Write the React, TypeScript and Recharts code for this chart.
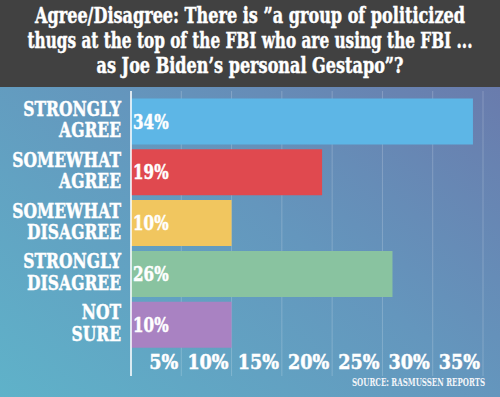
import { BarChart, Bar, XAxis, YAxis, CartesianGrid, Cell, LabelList } from "recharts";

const categories = ["STRONGLY AGREE", "SOMEWHAT AGREE", "SOMEWHAT DISAGREE", "STRONGLY DISAGREE", "NOT SURE"];
const values = [34, 19, 10, 26, 10];
const barColors = ["#5db6e6", "#e0494f", "#f1c65f", "#89c3a0", "#a982c2"];
const xTicks = [5, 10, 15, 20, 25, 30, 35];
const titleLines = [
  "Agree/Disagree: There is \u201Da group of politicized",
  "thugs at the top of the FBI who are using the FBI ...",
  "as Joe Biden\u2019s personal Gestapo\u201D?",
];
const titleWidths = [430, 445, 307];
const source = "SOURCE: RASMUSSEN REPORTS";

const data = categories.map((name, i) => ({ name, value: values[i] }));

const FONT = {
  fontFamily: "'DejaVu Serif', serif",
  fontWeight: 700,
} as const;

// horizontally squeezed text, to mimic the condensed headline face
function Squeezed({ x, y, anchor, size, scale, children }: any) {
  return (
    <text
      transform={`translate(${x},${y}) scale(${scale},1)`}
      x={0}
      y={0}
      textAnchor={anchor}
      fill="#ffffff"
      stroke="#ffffff"
      strokeWidth={0.5}
      fontSize={size}
      style={FONT}
    >
      {children}
    </text>
  );
}

function CategoryTick(props: any) {
  const { x, y, payload } = props;
  const words = String(payload.value).split(" ");
  return (
    <g>
      {words.map((w, i) => (
        <Squeezed key={i} x={x - 2} y={y - 5.5 + i * 21.5} anchor="end" size={21} scale={0.74}>
          {w}
        </Squeezed>
      ))}
    </g>
  );
}

function PercentTick(props: any) {
  const { x, y, payload } = props;
  return (
    <Squeezed x={x - 3} y={y - 15} anchor="end" size={20} scale={0.88}>
      {payload.value}%
    </Squeezed>
  );
}

function ValueLabel(props: any) {
  const { x, y, height, value } = props;
  return (
    <Squeezed x={x + 2} y={y + height / 2 + 7} anchor="start" size={20} scale={0.76}>
      {value}%
    </Squeezed>
  );
}

export default function App() {
  return (
    <div
      style={{
        position: "absolute",
        left: 0,
        top: 0,
        width: 500,
        height: 397,
        overflow: "hidden",
        background: "linear-gradient(to top right, #5fb2c9 0%, #6496bd 50%, #6b74a8 100%)",
      }}
    >
      <div style={{ position: "absolute", left: 0, top: 0 }}>
        <BarChart
          width={500}
          height={397}
          layout="vertical"
          data={data}
          margin={{ top: 91, right: 17, bottom: 0, left: 0 }}
          barCategoryGap={2.5}
        >
          <CartesianGrid horizontal={false} stroke="rgba(255,255,255,0.2)" />
          <XAxis
            type="number"
            domain={[0, 35]}
            ticks={xTicks}
            height={21}
            axisLine={false}
            tickLine={false}
            tick={<PercentTick />}
          />
          <YAxis
            type="category"
            dataKey="name"
            width={131}
            padding={{ top: 5, bottom: 26 }}
            axisLine={{ stroke: "#ffffff", strokeWidth: 1.5 }}
            tickLine={false}
            tick={<CategoryTick />}
          />
          <Bar dataKey="value" isAnimationActive={false}>
            {data.map((d, i) => (
              <Cell key={d.name} fill={barColors[i]} />
            ))}
            <LabelList dataKey="value" content={<ValueLabel />} />
          </Bar>
        </BarChart>
      </div>
      <svg width={500} height={397} style={{ position: "absolute", left: 0, top: 0, pointerEvents: "none" }}>
        <rect x={0} y={0} width={500} height={87} fill="#414141" />
        {titleLines.map((line, i) => (
          <text
            key={i}
            x={250}
            y={23 + i * 25}
            textAnchor="middle"
            fill="#ffffff"
            stroke="#ffffff"
            strokeWidth={0.5}
            fontSize={22}
            textLength={titleWidths[i]}
            lengthAdjust="spacingAndGlyphs"
            style={FONT}
          >
            {line}
          </text>
        ))}
        <text
          x={485}
          y={386}
          textAnchor="end"
          fill="#f2f4f8"
          fontSize={11}
          textLength={133}
          lengthAdjust="spacingAndGlyphs"
          style={FONT}
        >
          {source}
        </text>
      </svg>
    </div>
  );
}
